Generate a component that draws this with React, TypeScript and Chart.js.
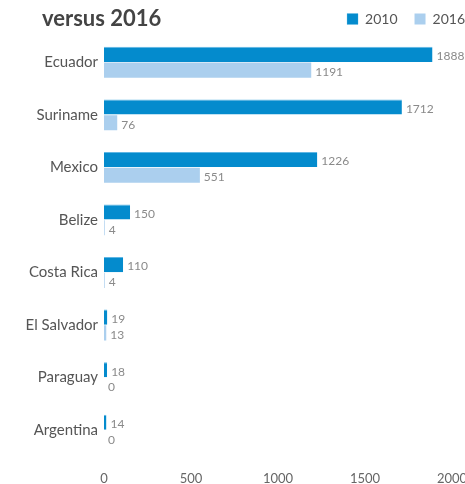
import React, { useEffect, useRef } from "react";
import { Chart, registerables } from "chart.js";

Chart.register(...registerables);

const categories = ["Ecuador", "Suriname", "Mexico", "Belize", "Costa Rica", "El Salvador", "Paraguay", "Argentina"];
const values2010 = [1888, 1712, 1226, 150, 110, 19, 18, 14];
const values2016 = [1191, 76, 551, 4, 4, 13, 0, 0];
const seriesNames = ["2010", "2016"];
const xTicks = [0, 500, 1000, 1500, 2000];
const titleText = "versus 2016";

const FONT = "Lato, 'Open Sans', sans-serif";

const valueLabels = {
  id: "valueLabels",
  afterDatasetsDraw(chart: any) {
    const ctx = chart.ctx;
    ctx.save();
    ctx.font = `12px ${FONT}`;
    ctx.fillStyle = "#8a8a8a";
    ctx.textAlign = "left";
    ctx.textBaseline = "middle";
    chart.data.datasets.forEach((ds: any, i: number) => {
      const meta = chart.getDatasetMeta(i);
      meta.data.forEach((bar: any, j: number) => {
        ctx.fillText(String(ds.data[j]), bar.x + 4, bar.y + 2);
      });
    });
    ctx.restore();
  },
};

const legendShift = {
  id: "legendShift",
  afterLayout(chart: any) {
    const lg = chart.legend;
    if (lg) {
      lg.left += 30;
      lg.right += 30;
    }
  },
};

export default function App() {
  const ref = useRef<HTMLCanvasElement>(null);
  useEffect(() => {
    const chart = new Chart(ref.current!, {
      type: "bar",
      data: {
        labels: categories,
        datasets: [
          { label: seriesNames[0], data: values2010, backgroundColor: "#048bcd", borderColor: "#5fb6e4", borderWidth: { top: 1, right: 0, bottom: 0, left: 0 } as any, borderSkipped: false },
          { label: seriesNames[1], data: values2016, backgroundColor: "#abcfee" },
        ],
      },
      options: {
        indexAxis: "y",
        animation: false,
        responsive: true,
        maintainAspectRatio: false,
        layout: { padding: { left: 0, right: 13, top: -5, bottom: 12 } },
        datasets: { bar: { categoryPercentage: 0.6, barPercentage: 0.96 } },
        plugins: {
          title: { display: false },
          tooltip: { enabled: false },
          legend: {
            position: "top",
            align: "end",
            labels: {
              boxWidth: 11,
              boxHeight: 11,
              padding: 17,
              color: "#555",
              font: { family: FONT, size: 14 },
            },
          },
        },
        scales: {
          x: {
            min: 0,
            max: 2000,
            afterBuildTicks: (s: any) => { s.ticks = xTicks.map((v) => ({ value: v })); },
            afterFit: (s: any) => { s.paddingRight = 0; s.paddingLeft = 0; },
            grid: { display: false, drawTicks: false },
            border: { display: false },
            ticks: { color: "#666", padding: 15, font: { family: FONT, size: 13 }, callback: (v: any) => String(v) },
          },
          y: {
            grid: { display: false, drawTicks: false },
            border: { display: false },
            afterFit: (s: any) => { s.width = 104; },
            ticks: { color: "#555", padding: 6, font: { family: FONT, size: 15 } },
          },
        },
      },
      plugins: [valueLabels, legendShift],
    });
    return () => chart.destroy();
  }, []);
  return (
    <div style={{ position: "absolute", left: 0, top: 0, width: 465, height: 514, background: "#fff" }}>
      <canvas ref={ref} />
      <div style={{ position: "absolute", left: 42, top: 4, fontFamily: FONT, fontWeight: 700, fontSize: 22, color: "#444" }}>{titleText}</div>
    </div>
  );
}
